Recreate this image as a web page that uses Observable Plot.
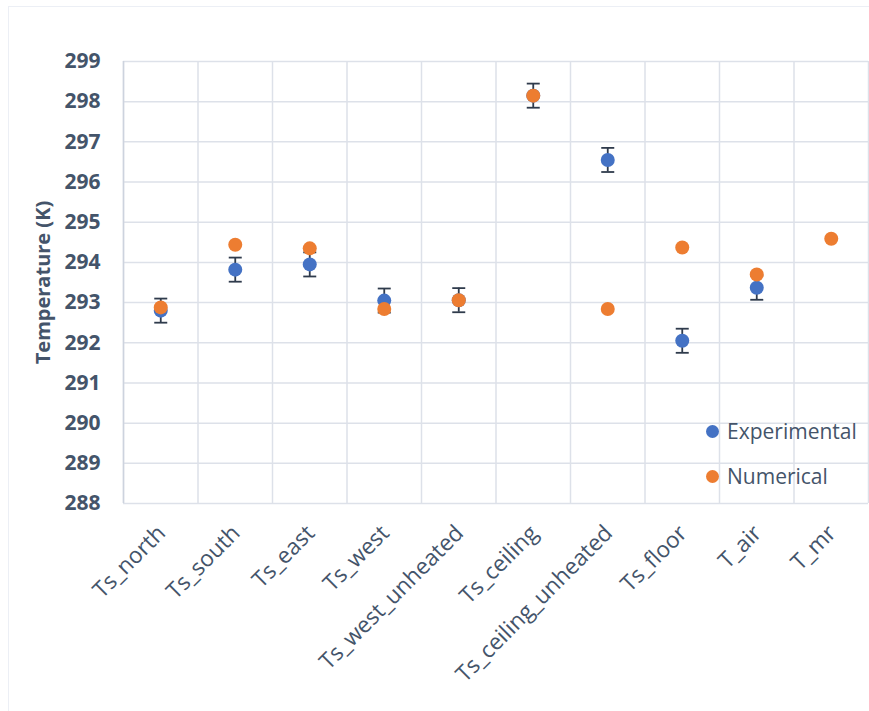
<!DOCTYPE html>
<html>
<head>
<meta charset="utf-8">
<script src="https://cdn.jsdelivr.net/npm/d3@7"></script>
<script src="https://cdn.jsdelivr.net/npm/@observablehq/plot@0.6"></script>
<style>
  html, body { margin: 0; padding: 0; background: #fff; }
  #wrap { position: relative; width: 869px; height: 711px; overflow: hidden; font-family: "Open Sans", sans-serif; }
  #frame { position: absolute; left: 8px; top: 6px; width: 880px; height: 720px; border: 1px solid #eceff5; box-sizing: border-box; pointer-events: none; }
  #legend { position: absolute; left: 706px; top: 409px; color: #44546a; font-size: 21px; line-height: 45px; }
  #legend .item { display: flex; align-items: center; height: 45px; }
  #legend .sw { width: 13px; height: 13px; border-radius: 50%; margin-right: 8px; }
</style>
</head>
<body>
<div id="wrap">
  <div id="frame"></div>
  <div id="chart"></div>
  <div id="legend"></div>
</div>
<script>
const categories = ["Ts_north", "Ts_south", "Ts_east", "Ts_west", "Ts_west_unheated", "Ts_ceiling", "Ts_ceiling_unheated", "Ts_floor", "T_air", "T_mr"];
const experimental = [292.80, 293.82, 293.95, 293.05, 293.06, 298.15, 296.55, 292.05, 293.37, null];
const numerical = [292.88, 294.44, 294.35, 292.84, 293.06, 298.15, 292.84, 294.37, 293.70, 294.59];
const expError = [0.3, 0.3, 0.3, 0.3, 0.3, 0.3, 0.3, 0.3, 0.3, null];
const yTicks = [288, 289, 290, 291, 292, 293, 294, 295, 296, 297, 298, 299];
const seriesNames = ["Experimental", "Numerical"];
const seriesColors = ["#4472c4", "#ed7d31"];
const yLabel = "Temperature (K)";

const rows = categories.map((c, i) => ({cat: c, pos: i + 0.5, exp: experimental[i], num: numerical[i], err: expError[i]}));
const expRows = rows.filter(d => d.exp != null);
const errRows = rows.filter(d => d.exp != null && d.err != null);
const bounds = d3.range(categories.length + 1);

const textColor = "#44546a";
const gridColor = "#dde1e9";
const errColor = "#2f3b4c";

const capSymbol = {
  draw(context, size) {
    const w = 6.5;
    context.moveTo(-w, 0);
    context.lineTo(w, 0);
  }
};

const chart = Plot.plot({
  width: 869,
  height: 711,
  marginLeft: 123,
  marginRight: 1,
  marginTop: 61,
  marginBottom: 208,
  style: {background: "transparent", fontFamily: "'Open Sans', sans-serif"},
  x: {domain: [0, categories.length], axis: null},
  y: {domain: [yTicks[0], yTicks[yTicks.length - 1]], axis: null},
  marks: [
    Plot.gridY(yTicks, {stroke: gridColor, strokeOpacity: 1, strokeWidth: 1.5}),
    Plot.gridX(bounds, {stroke: gridColor, strokeOpacity: 1, strokeWidth: 1.5}),
    Plot.ruleX([0], {stroke: "#cdd3de", strokeWidth: 1.5}),
    Plot.axisY(yTicks, {
      tickSize: 0, tickPadding: 23, fontSize: 21, fontWeight: "bold", fill: textColor,
      tickFormat: d => String(d), label: null
    }),
    Plot.text([yLabel], {
      frameAnchor: "left", rotate: -90, dx: -88, lineAnchor: "top", textAnchor: "middle",
      fontSize: 20, fontWeight: "bold", fill: textColor, text: d => d
    }),
    Plot.axisX(rows.map(d => d.pos), {
      tickSize: 0, tickPadding: 26, tickRotate: -45, fontSize: 22.5, fill: textColor, dx: 1,
      tickFormat: (d) => categories[Math.floor(d)], label: null
    }),
    Plot.ruleX(errRows, {x: "pos", y1: d => d.exp - d.err, y2: d => d.exp + d.err, stroke: errColor, strokeWidth: 1.8}),
    Plot.dot(errRows, {x: "pos", y: d => d.exp - d.err, symbol: capSymbol, r: 4, stroke: errColor, strokeWidth: 1.8, fill: "none"}),
    Plot.dot(errRows, {x: "pos", y: d => d.exp + d.err, symbol: capSymbol, r: 4, stroke: errColor, strokeWidth: 1.8, fill: "none"}),
    Plot.dot(expRows, {x: "pos", y: "exp", r: 7, fill: seriesColors[0], stroke: "none"}),
    Plot.dot(rows, {x: "pos", y: "num", r: 7, fill: seriesColors[1], stroke: "none"})
  ]
});
document.getElementById("chart").appendChild(chart);

const legend = document.getElementById("legend");
seriesNames.forEach((name, i) => {
  const item = document.createElement("div");
  item.className = "item";
  const sw = document.createElement("span");
  sw.className = "sw";
  sw.style.background = seriesColors[i];
  const label = document.createElement("span");
  label.textContent = name;
  item.appendChild(sw);
  item.appendChild(label);
  legend.appendChild(item);
});
</script>
</body>
</html>
